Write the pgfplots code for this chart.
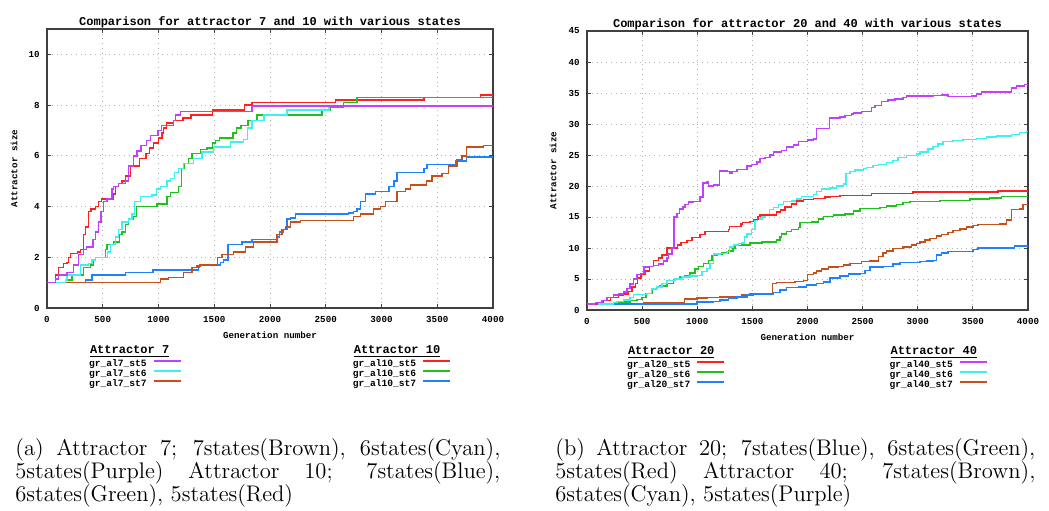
\documentclass[border=0pt]{standalone}
\usepackage{fontspec}
\setmonofont{Liberation Mono}
\usepackage{pgfplots}
\pgfplotsset{compat=1.18}
\definecolor{cpurple}{HTML}{C040FF}
\definecolor{ccyan}{HTML}{40F0F0}
\definecolor{cbrown}{HTML}{C4501C}
\definecolor{cred}{HTML}{FF2020}
\definecolor{cgreen}{HTML}{20C020}
\definecolor{cblue}{HTML}{2080FF}
\newcommand{\titlefont}{\ttfamily\bfseries\fontsize{6}{7}\selectfont}
\newcommand{\tickfont}{\ttfamily\bfseries\fontsize{4.6}{5}\selectfont}
\newcommand{\labfont}{\ttfamily\bfseries\fontsize{4.6}{5}\selectfont}
\newcommand{\legfont}{\ttfamily\bfseries\fontsize{4.8}{5}\selectfont}
\newcommand{\captfont}{\fontsize{11.3}{11.6}\selectfont\lineskiplimit=-20pt\lineskip=0pt}
\pgfplotsset{gp/.style={
  scale only axis, height=139.5pt,
  xmin=0, xmax=4000, ymin=0,
  xtick={0,500,...,4000},
  /pgf/number format/1000 sep={},
  /pgf/number format/assume math mode=true,
  scaled ticks=false,
  tick align=inside, major tick length=2pt,
  tick style={color=gray!50!black, line width=0.5pt},
  axis line style={gray!50!black, line width=0.6pt},
  grid=major, major grid style={gray!60, dotted, line width=0.5pt},
  ticklabel style={font=\tickfont},
  xticklabel style={anchor=north, inner sep=0pt, yshift=-4pt},
  yticklabel style={anchor=east, inner sep=0pt, xshift=-3.5pt},
  title style={font=\titlefont, at={(0.5,1)}, anchor=base, yshift=-4pt, inner sep=0pt},
  xlabel={Generation number}, ylabel={Attractor size},
  label style={font=\labfont},
  xlabel style={at={(axis description cs:0.5,0)}, anchor=center, yshift=-13.5pt},
  legend cell align=left,
  legend plot pos=right,
  legend columns=2,
  legend image code/.code={\draw[##1, line width=1.1pt] (0pt,1.6pt) -- (13.5pt,1.6pt);},
  legend style={at={(0,0)}, anchor=north west, draw=none, fill=none,
     inner sep=0pt, outer sep=0pt, row sep=0pt, column sep=3pt, font=\legfont,
     nodes={inner sep=0pt, text height=3.6pt, text depth=1.4pt}},
}}
\begin{document}
\begin{tikzpicture}[x=1pt,y=1pt]
\useasboundingbox (0,0) rectangle (524.5,-255);
% ---------------- left ----------------
\begin{axis}[gp, at={(23.5pt,-154pt)}, anchor=south west, width=223pt,
  ymax=11, ytick={0,2,...,10},
  title={Comparison for attractor 7 and 10 with various states},
  ylabel style={at={(axis description cs:-0.074,0.5)}, anchor=center},
  legend style={xshift=21pt, yshift=-18pt, /tikz/every even column/.append style={column sep=85.5pt}}]
\addplot[cred, const plot, line width=0.75pt, forget plot] coordinates {(0,1) (75,1.3) (105,1.6) (150,1.75) (180,1.8) (194,2.0) (209,2.15) (275,2.2) (299,2.3) (329,2.9) (344,3.2) (374,3.8) (395,3.9) (434,4.0) (463,4.2) (487,4.3) (598,4.5) (613,4.8) (643,4.9) (673,5.0) (703,5.2) (748,5.6) (831,5.9) (888,6.1) (918,6.3) (957,6.5) (999,6.7) (1032,6.9) (1047,7.1) (1070,7.3) (1136,7.4) (1220,7.5) (1292,7.6) (1483,7.8) (1773,8.0) (1839,8.1) (2586,8.2) (3379,8.3) (3887,8.4) (4000,8.4)};
\addplot[cgreen, const plot, line width=0.75pt, forget plot] coordinates {(0,1) (164,1.1) (224,1.3) (329,1.6) (389,1.7) (419,1.9) (434,2.0) (523,2.3) (538,2.5) (598,2.6) (652,2.9) (673,3.0) (703,3.3) (733,3.5) (777,3.6) (801,4.0) (987,4.1) (1076,4.4) (1106,4.55) (1181,4.8) (1205,5.5) (1235,5.7) (1271,5.9) (1301,6.1) (1375,6.25) (1435,6.3) (1486,6.5) (1510,6.6) (1546,6.7) (1668,6.9) (1698,7.1) (1740,7.2) (1803,7.4) (1884,7.6) (2467,7.8) (2542,7.9) (2661,8.1) (2781,8.3) (4000,8.3)};
\addplot[cblue, const plot, line width=0.75pt, forget plot] coordinates {(0,1) (344,1.1) (404,1.3) (703,1.4) (951,1.5) (1360,1.6) (1369,1.7) (1555,1.8) (1585,1.9) (1624,2.5) (1749,2.6) (1839,2.7) (2057,2.8) (2087,3.0) (2123,3.1) (2153,3.5) (2183,3.55) (2228,3.7) (2706,3.75) (2751,3.8) (2781,3.9) (2811,4.2) (2855,4.5) (2945,4.6) (3065,4.8) (3110,5.0) (3140,5.35) (3379,5.5) (3409,5.65) (3663,5.8) (3761,5.95) (4000,5.95)};
\addplot[cbrown, const plot, line width=0.75pt, forget plot] coordinates {(0,1) (1017,1.15) (1091,1.2) (1226,1.4) (1301,1.6) (1346,1.65) (1375,1.7) (1531,2.0) (1570,2.1) (1674,2.2) (1779,2.4) (1854,2.6) (2063,2.9) (2108,3.1) (2138,3.2) (2183,3.4) (2272,3.45) (2751,3.6) (2811,3.7) (2930,3.9) (2990,4.0) (3035,4.2) (3140,4.6) (3214,4.7) (3259,4.85) (3403,5.0) (3453,5.2) (3543,5.3) (3603,5.6) (3678,5.85) (3723,6.0) (3761,6.35) (3917,6.4) (4000,6.4)};
\addplot[ccyan, const plot, line width=0.75pt, forget plot] coordinates {(0,1) (164,1.1) (179,1.3) (299,1.7) (374,1.75) (404,1.9) (434,2.0) (544,2.2) (568,2.5) (613,2.8) (643,3.1) (673,3.4) (733,3.5) (762,3.7) (786,4.2) (837,4.4) (942,4.45) (981,4.7) (1017,4.8) (1076,5.0) (1106,5.1) (1145,5.35) (1181,5.5) (1226,5.7) (1316,5.9) (1390,6.15) (1495,6.35) (1645,6.55) (1764,6.65) (1800,7.1) (1839,7.4) (1944,7.6) (2153,7.8) (2527,7.97) (4000,7.97)};
\addplot[cpurple, const plot, line width=0.75pt, forget plot] coordinates {(0,1) (75,1.15) (105,1.3) (179,1.4) (239,1.7) (284,2.1) (329,2.3) (353,2.4) (413,2.7) (434,3.0) (463,3.4) (484,3.8) (508,4.2) (538,4.3) (583,4.7) (598,4.8) (643,4.9) (703,5.0) (733,5.6) (777,6.0) (807,6.2) (843,6.4) (891,6.6) (927,6.8) (996,7.0) (1026,7.2) (1136,7.4) (1151,7.6) (1196,7.75) (1839,7.97) (4000,7.97)};
\addlegendimage{empty legend}\addlegendentry[text height=4.5pt, text depth=3pt]{\rlap{\titlefont\underline{Attractor 7}}}
\addlegendimage{empty legend}\addlegendentry[text height=4.5pt, text depth=3pt]{\rlap{\titlefont\underline{Attractor 10}}}
\addlegendimage{cpurple}\addlegendentry{gr\_al7\_st5}
\addlegendimage{cred}\addlegendentry{gr\_al10\_st5}
\addlegendimage{ccyan}\addlegendentry{gr\_al7\_st6}
\addlegendimage{cgreen}\addlegendentry{gr\_al10\_st6}
\addlegendimage{cbrown}\addlegendentry{gr\_al7\_st7}
\addlegendimage{cblue}\addlegendentry{gr\_al10\_st7}
\end{axis}
% ---------------- right ----------------
\begin{axis}[gp, at={(293.5pt,-155pt)}, anchor=south west, width=220.5pt,
  ymax=45, ytick={0,5,...,45},
  title={Comparison for attractor 20 and 40 with various states},
  ylabel style={at={(axis description cs:-0.077,0.5)}, anchor=center},
  legend style={xshift=20pt, yshift=-17.5pt, /tikz/every even column/.append style={column sep=82pt}}]
\addplot[cbrown, const plot, line width=0.75pt, forget plot] coordinates {(0,1) (513,1.1) (664,1.2) (885,1.8) (996,1.9) (1087,2.0) (1208,2.1) (1328,2.2) (1404,2.4) (1479,2.6) (1585,2.7) (1682,4.3) (1721,4.4) (1887,4.6) (1962,4.8) (1999,5.7) (2053,6.0) (2083,6.3) (2128,6.6) (2189,6.9) (2279,7.0) (2325,7.3) (2385,7.5) (2491,7.8) (2566,7.9) (2642,8.6) (2687,9.2) (2717,9.5) (2777,9.9) (2868,10.2) (2944,10.5) (2989,10.7) (3019,11.0) (3064,11.3) (3110,11.5) (3170,11.9) (3215,12.2) (3276,12.5) (3321,12.8) (3381,13.1) (3442,13.4) (3502,13.6) (3547,13.8) (3744,13.9) (3804,14.5) (3849,16.2) (3925,16.3) (3955,17.0) (4000,17.0)};
\addplot[cblue, const plot, line width=0.75pt, forget plot] coordinates {(0,1) (996,1.3) (1147,1.4) (1208,1.6) (1283,1.9) (1359,2.1) (1449,2.4) (1510,2.6) (1691,2.8) (1751,3.2) (1811,3.6) (1917,3.7) (1993,4.0) (2083,4.3) (2143,4.5) (2204,5.2) (2294,5.5) (2370,5.8) (2475,5.9) (2521,6.4) (2566,6.9) (2687,7.0) (2777,7.4) (2838,7.7) (3019,7.8) (3079,7.9) (3140,8.0) (3170,8.9) (3215,9.2) (3276,9.4) (3502,9.8) (3547,10.0) (3879,10.3) (4000,10.3)};
\addplot[cgreen, const plot, line width=0.75pt, forget plot] coordinates {(0,1) (242,1.1) (272,1.3) (392,1.5) (453,1.7) (498,2.0) (537,2.7) (589,3.3) (634,3.6) (664,3.9) (725,4.3) (785,4.9) (845,5.3) (891,5.6) (936,6.0) (981,6.6) (1011,7.0) (1057,7.5) (1102,8.0) (1132,8.8) (1177,9.0) (1223,9.2) (1283,9.5) (1322,10.0) (1343,10.4) (1404,10.5) (1479,10.8) (1585,11.0) (1721,11.3) (1751,11.8) (1766,12.3) (1811,12.7) (1857,13.0) (1917,13.3) (1932,14.1) (2038,14.2) (2098,14.7) (2143,15.1) (2234,15.3) (2340,15.5) (2415,16.0) (2475,16.4) (2657,16.5) (2717,16.8) (2808,17.0) (2868,17.3) (2928,17.5) (3200,17.7) (3472,17.9) (3653,18.1) (3759,18.3) (4000,18.3)};
\addplot[ccyan, const plot, line width=0.75pt, forget plot] coordinates {(0,1) (242,1.2) (272,1.4) (332,1.6) (392,2.0) (423,2.5) (543,2.7) (583,3.4) (634,3.7) (679,4.3) (725,4.8) (800,5.0) (860,5.3) (936,5.5) (996,5.6) (1042,6.2) (1087,6.7) (1117,7.5) (1147,9.0) (1208,9.1) (1268,9.4) (1292,10.2) (1328,10.5) (1374,10.7) (1404,10.8) (1428,11.8) (1449,12.3) (1494,13.0) (1525,14.5) (1546,14.7) (1585,15.0) (1615,15.4) (1654,16.2) (1691,16.5) (1736,17.0) (1781,17.5) (1857,17.6) (1902,17.9) (1947,18.3) (2053,18.6) (2083,19.1) (2128,19.5) (2204,19.7) (2264,20.0) (2325,20.3) (2349,22.0) (2385,22.3) (2430,22.6) (2506,22.8) (2536,23.0) (2596,23.3) (2642,23.5) (2717,23.8) (2777,24.1) (2823,24.6) (2898,24.9) (2989,25.2) (3019,25.5) (3094,26.0) (3140,26.4) (3185,26.8) (3230,27.2) (3321,27.3) (3411,27.5) (3532,27.7) (3623,27.9) (3713,28.1) (3849,28.3) (3925,28.6) (3985,28.8) (4000,28.8)};
\addplot[cred, const plot, line width=0.75pt, forget plot] coordinates {(0,1) (91,1.2) (151,1.5) (211,2.0) (287,2.4) (332,2.6) (377,3.0) (408,3.7) (438,4.3) (459,5.2) (489,5.7) (528,6.3) (568,7.0) (604,8.0) (649,8.4) (679,8.9) (725,10.0) (821,10.5) (851,10.9) (906,11.2) (951,11.7) (1026,12.2) (1072,12.7) (1283,13.0) (1292,13.5) (1395,13.9) (1410,14.1) (1479,14.3) (1510,14.6) (1549,15.1) (1570,15.3) (1721,15.8) (1757,16.1) (1796,16.6) (1857,17.1) (1902,17.6) (1962,17.8) (2053,18.0) (2159,18.2) (2204,18.3) (2294,18.5) (2581,18.8) (2959,19.0) (3728,19.2) (4000,19.2)};
\addplot[cpurple, const plot, line width=0.75pt, forget plot] coordinates {(0,1) (75,1.2) (136,1.5) (181,2.0) (242,2.4) (287,2.6) (332,2.9) (362,3.5) (392,4.2) (423,5.0) (453,5.7) (483,5.9) (519,6.9) (559,7.0) (604,7.2) (649,7.4) (694,7.9) (725,8.4) (740,9.0) (770,10.0) (791,15.0) (815,15.6) (839,16.3) (869,16.6) (891,17.0) (921,17.4) (966,17.5) (1026,18.2) (1051,20.5) (1087,20.7) (1102,20.0) (1147,20.2) (1202,22.4) (1268,22.3) (1298,22.0) (1313,22.3) (1359,22.7) (1449,23.2) (1494,23.5) (1540,23.9) (1570,24.4) (1615,24.6) (1660,25.0) (1691,25.5) (1766,25.7) (1811,26.3) (1872,26.6) (1917,27.2) (1999,27.4) (2053,27.6) (2083,29.3) (2198,31.0) (2294,31.1) (2340,31.4) (2400,31.6) (2415,31.8) (2491,32.0) (2581,32.7) (2611,33.0) (2672,33.6) (2732,33.9) (2793,34.0) (2868,34.3) (2898,34.5) (3140,34.6) (3215,34.7) (3276,34.4) (3487,34.5) (3532,34.8) (3577,35.2) (3849,35.8) (3894,36.1) (3970,36.4) (4000,36.4)};
\addlegendimage{empty legend}\addlegendentry[text height=4.5pt, text depth=3pt]{\rlap{\titlefont\underline{Attractor 20}}}
\addlegendimage{empty legend}\addlegendentry[text height=4.5pt, text depth=3pt]{\rlap{\titlefont\underline{Attractor 40}}}
\addlegendimage{cred}\addlegendentry{gr\_al20\_st5}
\addlegendimage{cpurple}\addlegendentry{gr\_al40\_st5}
\addlegendimage{cgreen}\addlegendentry{gr\_al20\_st6}
\addlegendimage{ccyan}\addlegendentry{gr\_al40\_st6}
\addlegendimage{cblue}\addlegendentry{gr\_al20\_st7}
\addlegendimage{cbrown}\addlegendentry{gr\_al40\_st7}
\end{axis}
% ---------------- captions ----------------
\node[anchor=base west, inner sep=0pt] at (7.5,-227.5) {\parbox[t]{242.5pt}{\captfont (a) Attractor 7; 7states(Brown), 6states(Cyan),\linebreak 5states(Purple) Attractor 10; 7states(Blue),\linebreak 6states(Green), 5states(Red)}};
\node[anchor=base west, inner sep=0pt] at (277.5,-227.5) {\parbox[t]{240pt}{\captfont (b) Attractor 20; 7states(Blue), 6states(Green),\linebreak 5states(Red) Attractor 40; 7states(Brown),\linebreak 6states(Cyan), 5states(Purple)}};
\end{tikzpicture}
\end{document}
